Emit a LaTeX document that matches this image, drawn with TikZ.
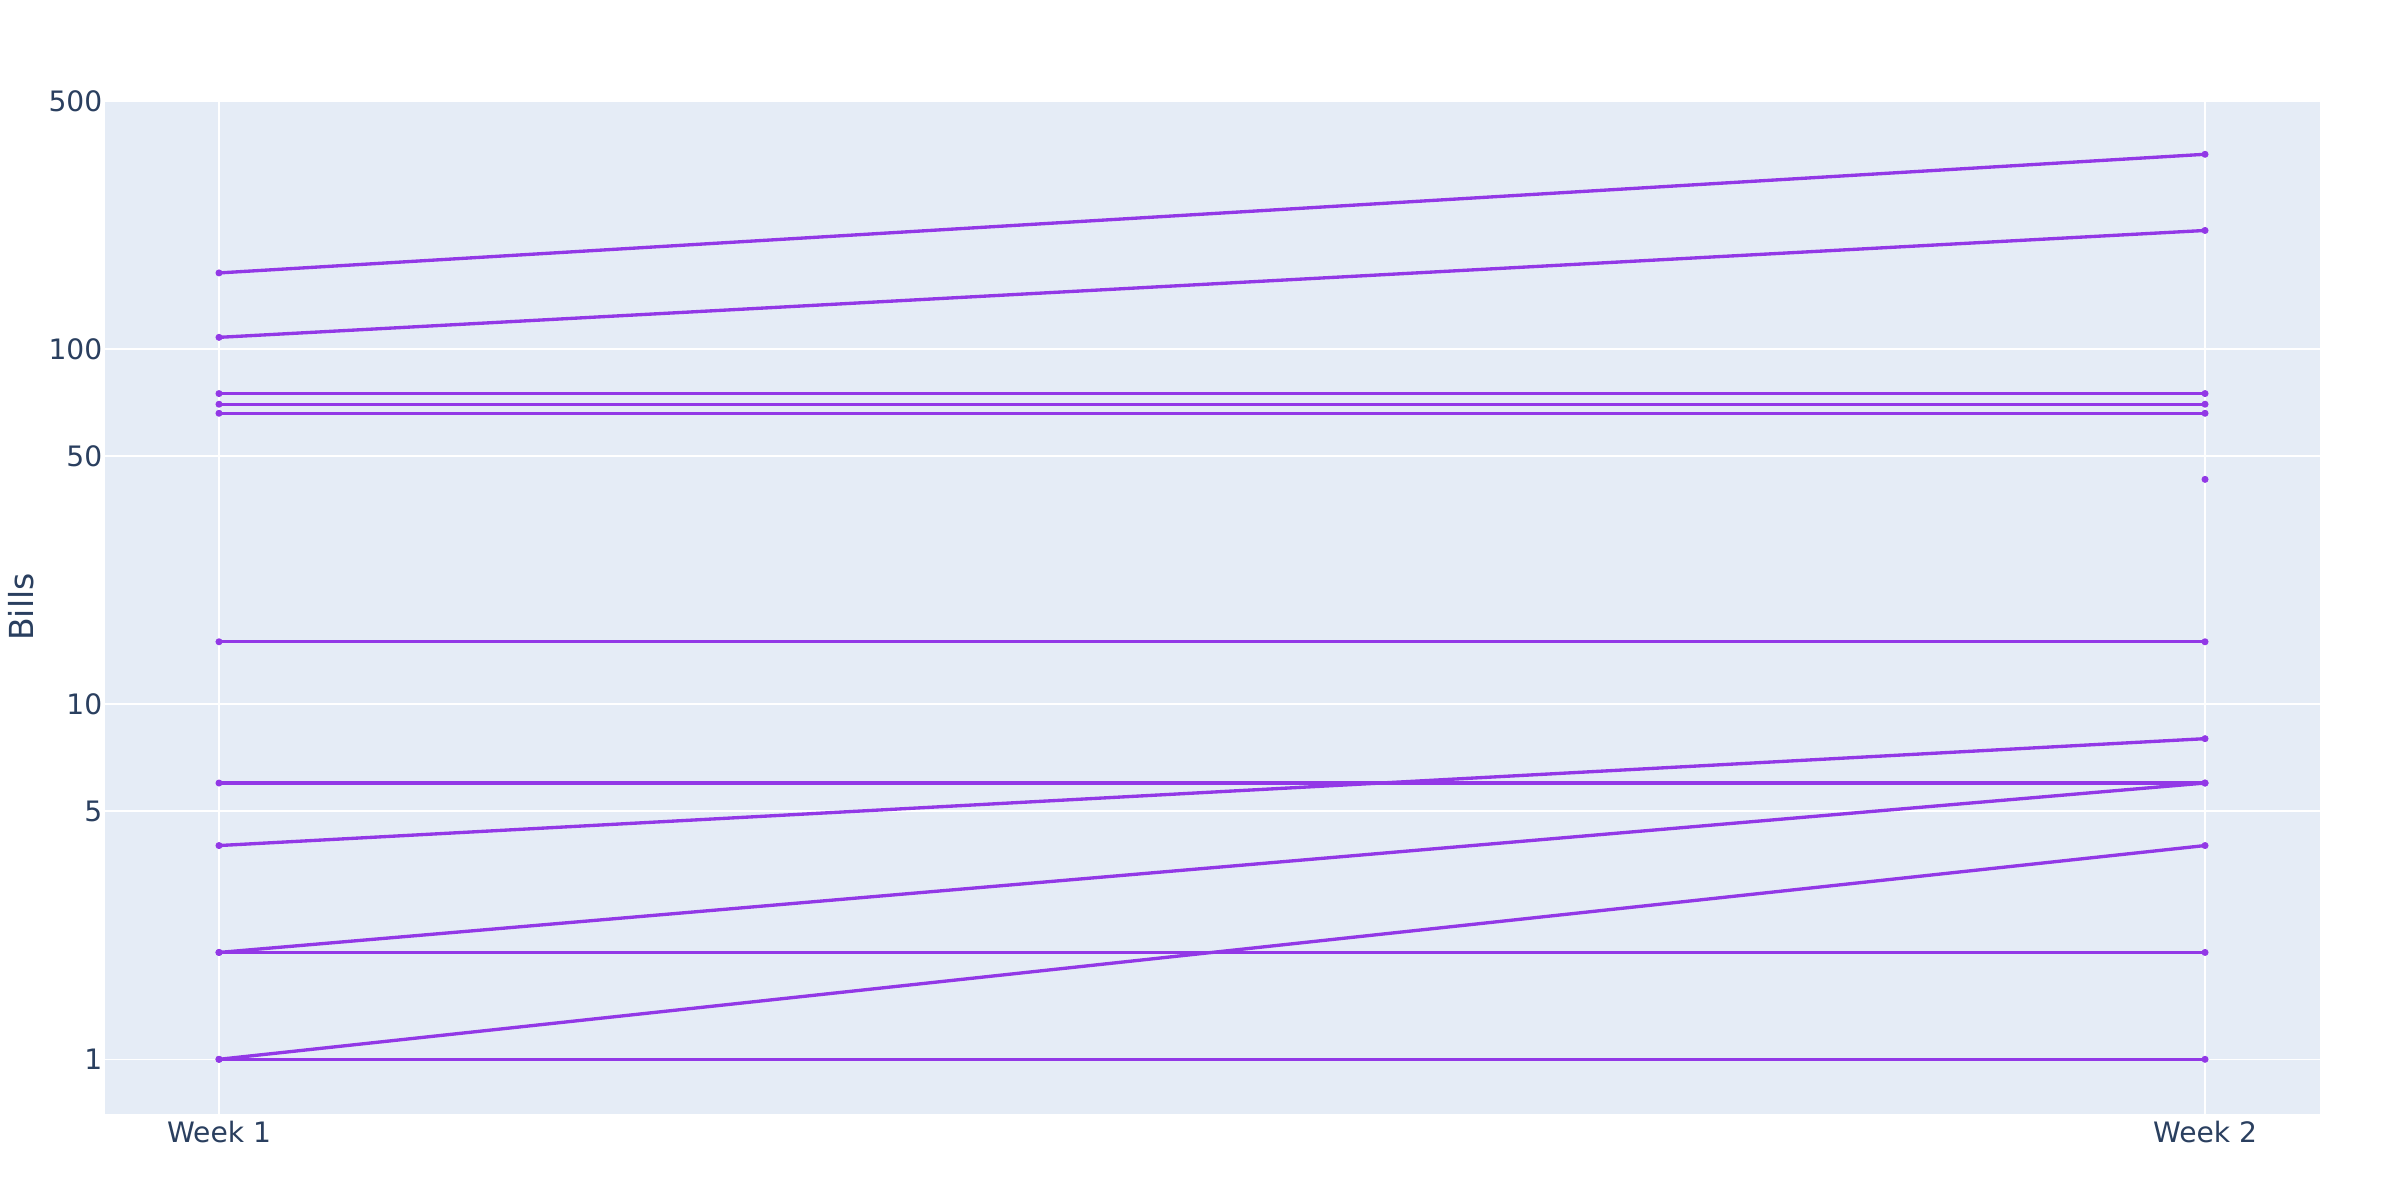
\documentclass[tikz,border=0pt]{standalone}
\usepackage{fontspec}
\setmainfont{DejaVu Sans}
\definecolor{plotbg}{HTML}{E5ECF6}
\definecolor{txt}{HTML}{2A3F5F}
\definecolor{trace}{RGB}{146,56,230}
\newcommand\ypx[1]{1059.3-355.05*log10(#1)}
\tikzset{
  grid line/.style={draw=white, line width=0.45pt},
  trace line/.style={draw=trace, line width=0.95pt, line join=round},
  marker/.style={fill=trace},
  tick label/.style={text=txt, inner sep=0pt, font=\fontsize{8}{9.5}\selectfont},
  axis title/.style={text=txt, inner sep=0pt, font=\fontsize{9.4}{11}\selectfont}
}
\begin{document}
\begin{tikzpicture}[x=0.01cm, y=-0.01cm]
\useasboundingbox (0,0) rectangle (2400,1200);
% plot area
\fill[plotbg] (104.5,100.6) rectangle (2319.7,1114);
% horizontal gridlines
\foreach \v in {500,100,50,10,5,1} {
  \draw[grid line] (104.5,{\ypx{\v}}) -- (2319.7,{\ypx{\v}});
  \node[tick label, anchor=east] (tick\v) at (103,{\ypx{\v}}) {\v};
}
% vertical gridlines
\draw[grid line] (219,100.6) -- (219,1114);
\draw[grid line] (2205,100.6) -- (2205,1114);
% data
\foreach \a/\b [count=\i] in {164/354,108/216,75/75,70/70,66/66,15/15,6/6,4/8,2/6,2/2,1/4,1/1} {
  \coordinate (p\i) at (219,{\ypx{\a}});
  \coordinate (q\i) at (2205,{\ypx{\b}});
  \draw[trace line] (p\i) -- (q\i);
}
\foreach \i in {1,...,12} {
  \fill[marker] (p\i) circle[radius=1pt];
  \fill[marker] (q\i) circle[radius=1pt];
}
\coordinate (single) at (2205,{\ypx{43}});
\fill[marker] (single) circle[radius=1pt];
% axis labels
\node[tick label, anchor=base] (week1) at (219,1142) {Week 1};
\node[tick label, anchor=base] (week2) at (2205,1142) {Week 2};
\node[axis title, anchor=base, rotate=90] (ytitle) at (34,607) {Bills};
\end{tikzpicture}
\end{document}
